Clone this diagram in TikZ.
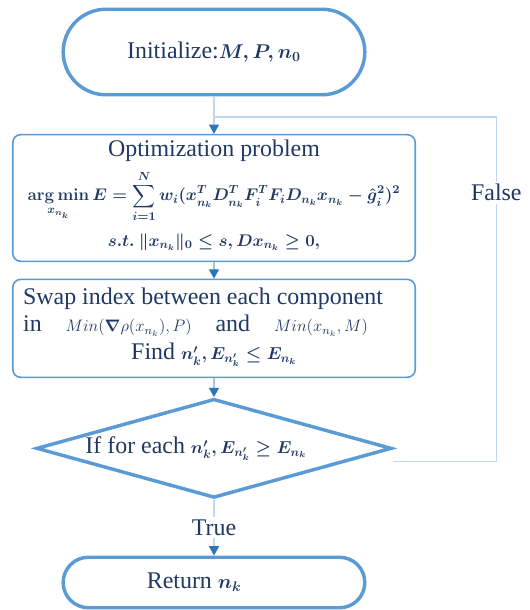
\RequirePackage{fix-cm}
\documentclass[tikz,border=0pt]{standalone}
\usepackage{amsmath}
\usepackage{bm}
\usepackage[no-math]{fontspec}
\setmainfont{Liberation Serif}
\usetikzlibrary{shapes.misc,shapes.geometric}
\usetikzlibrary{arrows.meta}
\usetikzlibrary{positioning}
\definecolor{edgeblue}{RGB}{91,155,213}
\definecolor{linkblue}{RGB}{157,195,230}
\definecolor{loopblue}{RGB}{189,215,238}
\definecolor{tipblue}{RGB}{46,117,182}
\definecolor{textblue}{RGB}{31,56,100}
\newcommand{\bmth}[2]{{\fontsize{#1}{#1}\selectfont\boldmath$#2$}}
\newcommand{\rmth}[2]{{\fontsize{#1}{#1}\selectfont$#2$}}
\tikzset{auto, >={Triangle[width=7.5pt,length=7pt,color=tipblue]}, node distance=1cm, font=\fontsize{18}{21}\selectfont, text=textblue}
\tikzstyle{terminal} = [draw=edgeblue, line width=2.6pt, rounded rectangle, minimum width=8.215cm, minimum height=2.262cm, align=center]
\tikzstyle{block} = [draw=edgeblue, line width=1.2pt, rectangle, rounded corners=6pt, minimum width=10.65cm, text width=10.1cm, inner xsep=0.27cm]
\tikzstyle{decision} = [draw=edgeblue, line width=2.6pt, diamond, aspect=3.5, inner sep=0pt, minimum width=9.4cm, minimum height=2.62cm]
\tikzstyle{link} = [draw=linkblue, line width=1pt]
\tikzstyle{loop} = [draw=loopblue, line width=1pt]
\tikzstyle{tag} = [fill=white, inner sep=2pt, auto=false]

\begin{document}
\begin{tikzpicture}
    \useasboundingbox (0,0) rectangle (14.023,-16.14);
    \node [terminal] (init) at (5.662,-1.376) {Initialize:\bmth{15}{M, P, n_0}};
    \node [block, below=0.99cm of init, minimum height=3.35cm, align=flush center] (opt) {Optimization problem\\[6pt]
        \bmth{12.7}{\displaystyle \operatorname*{arg\,min}_{x_{n_k}} E = \sum_{i=1}^{N} w_i(x^T_{n_k} D^T_{n_k} F^T_i F_i D_{n_k} x_{n_k} - \hat{g}_i^2)^2}\\[8pt]
        \bmth{12.7}{s.t.\ \|x_{n_k}\|_0 \leq s, Dx_{n_k} \geq 0,}\par\vspace*{4pt}};
    \node [block, below=0.437cm of opt, minimum height=2.59cm, align=flush left] (swap) {Swap index between each component\\
        in\quad\rmth{12.5}{Min(\bm{\nabla}\rho(x_{n_k}),P)}\quad and\quad\rmth{12.5}{Min(x_{n_k},M)}\par
        {\centering Find \bmth{13}{n'_k, E_{n'_k} \leq E_{n_k}}\par}\vspace*{2pt}};
    \node [decision, below=0.503cm of swap] (dec) {If for each \bmth{13}{n'_k, E_{n'_k} \geq E_{n_k}}\hspace*{0.95cm}};
    \node [terminal, below=1.48cm of dec, minimum height=1.336cm] (ret) {Return \bmth{15}{n_k}\hspace*{1.05cm}};
    \coordinate [below=0.54cm of init] (join);

    \draw [link,->] (init) -- (opt);
    \draw [link,->] (opt) -- (swap);
    \draw [link,->] (swap) -- (dec);
    \draw [link,->] (dec) -- node [tag, midway] {True} (ret);
    \draw [loop] ([yshift=-0.344cm]dec.east) -- ++(2.725cm,0) |- node [tag, pos=0.39] {False} (join);
\end{tikzpicture}
\end{document}
